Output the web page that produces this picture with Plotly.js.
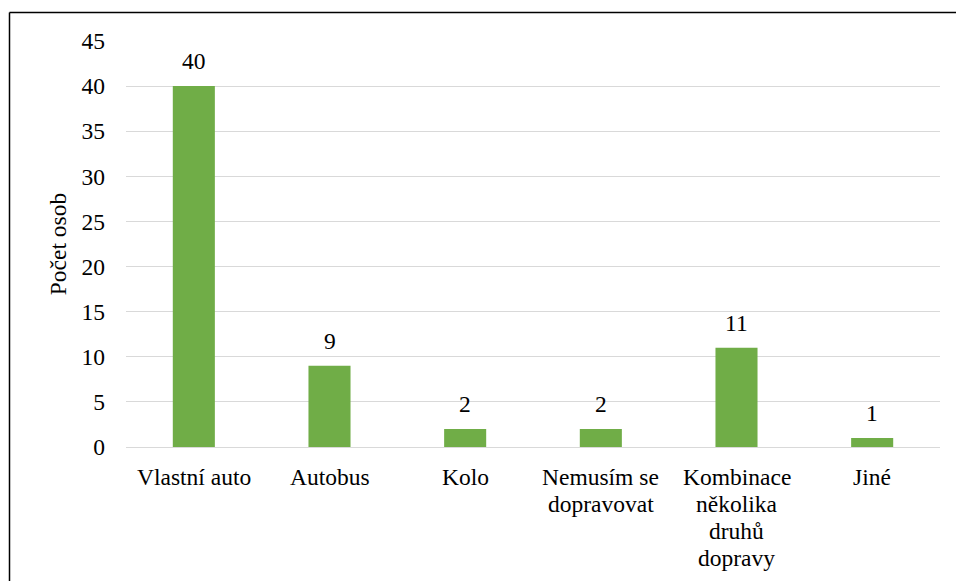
<!DOCTYPE html>
<html><head><meta charset="utf-8">
<script src="https://cdn.plot.ly/plotly-3.0.1.min.js"></script>
<style>body{margin:0;background:#fff}#c{width:956px;height:581px}</style>
</head><body><div id="c"></div>
<script>
const categories = ["Vlastní auto", "Autobus", "Kolo", "Nemusím se<br>dopravovat", "Kombinace<br>několika<br>druhů<br>dopravy", "Jiné"];
const values = [40, 9, 2, 2, 11, 1];
const yTicks = [0, 5, 10, 15, 20, 25, 30, 35, 40, 45];

const L = 126, R = 940, T = 41, B = 447;
const px = x => (x - L) / (R - L);
const py = y => (B - y) / (B - T);
const font = {family: "Liberation Serif, Times New Roman, serif", size: 23.5, color: "#000"};

// value labels above bars
const valueLabels = values.map((v, i) => ({
  x: categories[i], y: v, xref: "x", yref: "y",
  text: String(v), showarrow: false, yanchor: "bottom", yshift: 10,
  font: font
}));
// category labels, one annotation per line for tighter line spacing
const catLabels = [];
categories.forEach(c => {
  c.split("<br>").forEach((line, k) => {
    catLabels.push({
      x: c, y: 0, xref: "x", yref: "paper",
      text: line, showarrow: false, yanchor: "middle", yshift: -(30 + 27 * k),
      font: font
    });
  });
});

Plotly.newPlot("c", [{
  type: "bar",
  x: categories,
  y: values,
  marker: {color: "#70ad47"},
  width: 0.31,
  hoverinfo: "none"
}], {
  width: 956, height: 581,
  margin: {l: L, r: 956 - R, t: T, b: 581 - B},
  paper_bgcolor: "#fff", plot_bgcolor: "#fff",
  font: font,
  showlegend: false,
  xaxis: {
    showticklabels: false, showgrid: false, zeroline: false, showline: false,
    ticks: "", fixedrange: true
  },
  yaxis: {
    range: [0, 45], tickvals: yTicks, ticktext: yTicks.map(String),
    tickfont: font, gridcolor: "#d9d9d9", gridwidth: 1,
    zeroline: true, zerolinecolor: "#d9d9d9", zerolinewidth: 1,
    showline: false, ticks: "", ticklabelstandoff: 20,
    title: {text: "Počet osob", font: font, standoff: 8},
    fixedrange: true
  },
  annotations: valueLabels.concat(catLabels),
  shapes: [
    {type: "line", xref: "paper", yref: "paper", x0: px(9.5), x1: px(9.5), y0: py(600), y1: py(12.5), line: {color: "#000", width: 1.5}},
    {type: "line", xref: "paper", yref: "paper", x0: px(9.5), x1: px(960), y0: py(12.5), y1: py(12.5), line: {color: "#000", width: 1.5}}
  ]
}, {displayModeBar: false, staticPlot: true});
</script></body></html>
